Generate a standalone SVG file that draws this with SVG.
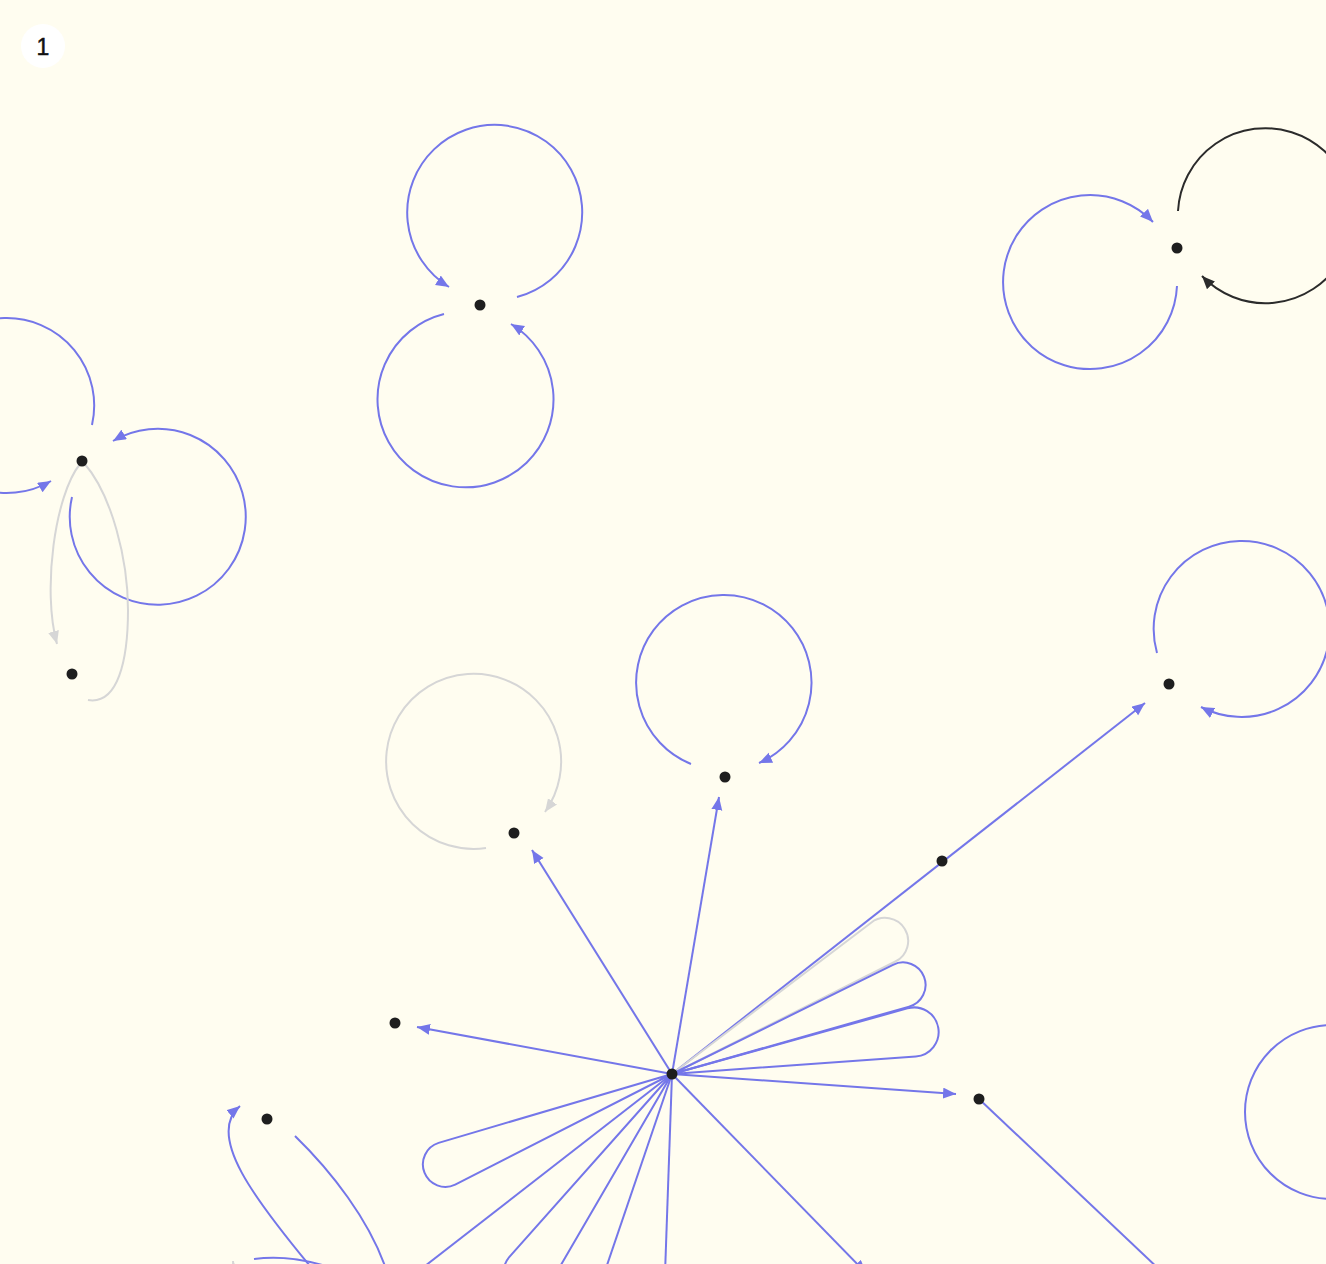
<svg xmlns="http://www.w3.org/2000/svg" width="1326" height="1264" viewBox="0 0 1326 1264">
<defs>
<style>
.e{fill:none;stroke:#7476e9;stroke-width:2}
.g{fill:none;stroke:#d6d6d6;stroke-width:2}
.k{fill:none;stroke:#2b2b2b;stroke-width:2}
.n{fill:#1e1e1e}
.ab{marker-end:url(#mb)}
.ag{marker-end:url(#mg)}
.ak{marker-end:url(#mk)}
</style>
<marker id="mb" markerUnits="userSpaceOnUse" markerWidth="14" markerHeight="12" refX="13" refY="5.5" orient="auto"><path d="M0,0 L13,5.5 L0,11 Z" fill="#7476e9"/></marker>
<marker id="mg" markerUnits="userSpaceOnUse" markerWidth="14" markerHeight="12" refX="13" refY="5.5" orient="auto"><path d="M0,0 L13,5.5 L0,11 Z" fill="#d6d6d6"/></marker>
<marker id="mk" markerUnits="userSpaceOnUse" markerWidth="14" markerHeight="12" refX="13" refY="5.5" orient="auto"><path d="M0,0 L13,5.5 L0,11 Z" fill="#2b2b2b"/></marker>
</defs>
<rect width="1326" height="1264" fill="#fffdf0"/>
<g id="label">
<circle cx="43" cy="46" r="22" fill="#ffffff"/>
<text x="43" y="54.5" text-anchor="middle" font-family="Liberation Sans, Arial, sans-serif" font-size="23" fill="#111111" stroke="#111111" stroke-width="0.5">1</text>
</g>
<g id="connectors">
<path class="e ab" d="M517,297 A87.5,87.5 0 1 0 449,287"/>
<path class="e ab" d="M444,314 A88,88 0 1 0 511,324"/>
<path class="e ab" d="M1177,286 A87,87 0 1 1 1153,222"/>
<path class="k ak" d="M1178,211 A87.5,87.5 0 1 1 1202,276"/>
<path class="e ab" d="M92,425 A87.5,87.5 0 1 0 51,481"/>
<path class="e ab" d="M72,497 A88,88 0 1 0 113,441"/>
<path class="g ag" d="M80,464 C55,495 42,590 57,644"/>
<path class="g" d="M84,463 C112,495 128,560 128,610 C128,660 118,705 88,700"/>
<path class="g ag" d="M486,848 A87.5,87.5 0 1 1 545,812"/>
<path class="e ab" d="M691,764 A87.7,87.7 0 1 1 759,763"/>
<path class="e ab" d="M1157,653 A88,88 0 1 1 1201,707"/>
<circle class="e" cx="1332" cy="1112" r="87"/>
<path class="e ab" d="M672,1074 L532,850"/>
<path class="e ab" d="M672,1074 L719,797"/>
<path class="e ab" d="M672,1074 L1145,703"/>
<path class="e ab" d="M672,1074 L417,1027"/>
<path class="e ab" d="M672,1074 L956,1094"/>
<path class="e ab" d="M672,1074 L866,1273"/>
<path class="g" d="M672,1074 L871.1,922.7 A23,23 0 1 1 895.4,961.5 L672,1074"/>
<path class="e" d="M672,1074 L893,964.8 A22.5,22.5 0 1 1 909.1,1006.6 L672,1074"/>
<path class="e" d="M672,1074 L907.4,1008.4 A24.5,24.5 0 1 1 915.8,1056.4 L672,1074"/>
<path class="e" d="M672,1074 L438.6,1142.9 A22.5,22.5 0 1 0 455.2,1184.6 L672,1074"/>
<path class="e" d="M672,1074 L509.2,1257.1 A24.5,24.5 0 1 0 548.8,1285.8 L672,1074"/>
<path class="e" d="M672,1074 L416,1273"/>
<path class="e" d="M672,1074 L604,1274"/>
<path class="e" d="M672,1074 L665,1274"/>
<path class="e" d="M979,1099 L1162,1272"/>
<path class="e ab" d="M315,1272 C255,1200 205,1135 240,1106"/>
<path class="e" d="M295,1136 C330,1170 370,1220 387,1272"/>
<path class="e" d="M254,1259 Q290,1254 332,1268"/>
<path class="g ag" d="M236,1292 L233,1261"/>
</g>
<g id="node-a"><circle class="n" cx="480" cy="305" r="5.5"/></g>
<g id="node-b"><circle class="n" cx="1177" cy="248" r="5.5"/></g>
<g id="node-c"><circle class="n" cx="82" cy="461" r="5.5"/></g>
<g id="node-d"><circle class="n" cx="72" cy="674" r="5.5"/></g>
<g id="node-e"><circle class="n" cx="514" cy="833" r="5.5"/></g>
<g id="node-f"><circle class="n" cx="725" cy="777" r="5.5"/></g>
<g id="node-g"><circle class="n" cx="1169" cy="684" r="5.5"/></g>
<g id="node-h"><circle class="n" cx="942" cy="861" r="5.5"/></g>
<g id="node-hub"><circle class="n" cx="672" cy="1074" r="5.5"/></g>
<g id="node-i"><circle class="n" cx="395" cy="1023" r="5.5"/></g>
<g id="node-j"><circle class="n" cx="979" cy="1099" r="5.5"/></g>
<g id="node-k"><circle class="n" cx="267" cy="1119" r="5.5"/></g>
</svg>
